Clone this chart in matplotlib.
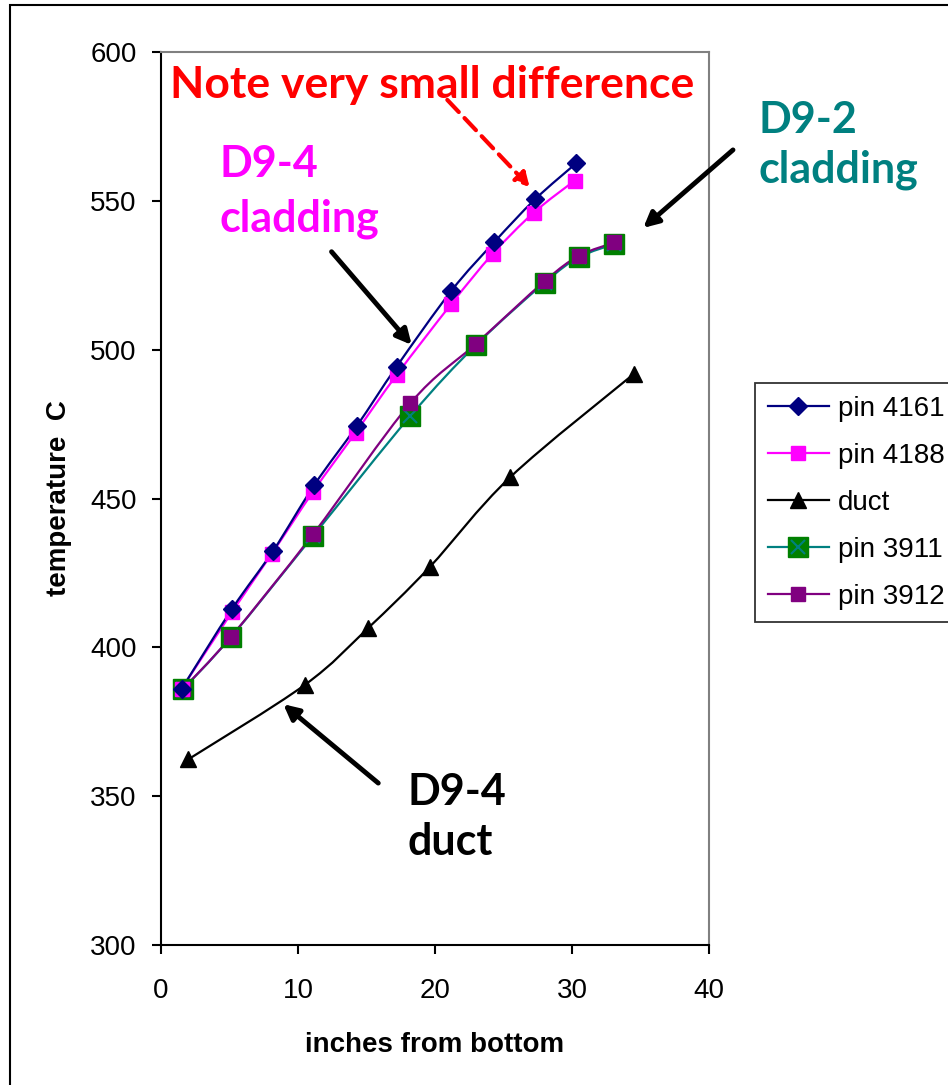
import numpy as np
import matplotlib
matplotlib.use('Agg')
import matplotlib.pyplot as plt
from matplotlib.path import Path
from matplotlib.patches import PathPatch, Rectangle
from matplotlib.lines import Line2D

plt.rcParams['font.family'] = ['Liberation Sans', 'DejaVu Sans']

# data
x_4161 = [1.5, 5.2, 8.2, 11.2, 14.3, 17.2, 21.2, 24.3, 27.3, 30.3]
y_4161 = [386, 413, 432.5, 454.6, 474.4, 494.3, 519.8, 536, 550.5, 562.6]

x_4188 = [1.5, 5.2, 8.1, 11.1, 14.2, 17.2, 21.2, 24.2, 27.2, 30.2]
y_4188 = [386, 412, 431.5, 452.3, 472.1, 491.5, 515.4, 532.1, 546, 556.8]

x_duct = [2.0, 10.5, 15.1, 19.6, 25.5, 34.5]
y_duct = [362.4, 387.4, 406.4, 426.9, 457.2, 491.8]

x_3911 = [1.6, 5.1, 11.1, 18.2, 23.0, 28.0, 30.5, 33.1]
y_3911 = [385.9, 403.4, 437.4, 477.7, 501.6, 522.5, 531, 535.5]

x_3912 = [1.6, 5.1, 11.1, 18.2, 23.0, 28.0, 30.5, 33.1]
y_3912 = [386, 403.5, 438, 482, 502, 523, 531.5, 536]

labels = ['pin 4161', 'pin 4188', 'duct', 'pin 3911', 'pin 3912']


def smooth_path(xs, ys):
    # bezier path like excel "smoothed line"
    pts = np.column_stack([xs, ys])
    n = len(pts)
    verts = [pts[0]]
    codes = [Path.MOVETO]
    for i in range(n - 1):
        p0 = pts[i - 1] if i > 0 else pts[i]
        p1 = pts[i]
        p2 = pts[i + 1]
        p3 = pts[i + 2] if i + 2 < n else pts[i + 1]
        c1 = p1 + (p2 - p0) / 6.
        c2 = p2 - (p3 - p1) / 6.
        verts += [c1, c2, p2]
        codes += [Path.CURVE4] * 3
    return Path(verts, codes)


fig = plt.figure(figsize=(9.48, 10.85), dpi=100)
ax = fig.add_axes([0.1698, 0.129, 0.5781, 0.8231])

series = [
    (x_3911, y_3911, '#008080', dict(marker='s', ms=14.5, mfc='#008000', mec='#008000')),
    (x_3912, y_3912, '#800080', dict(marker='s', ms=9.5, mfc='#800080', mec='#800080')),
    (x_duct, y_duct, 'black', dict(marker='^', ms=11.5, mfc='black', mec='black')),
    (x_4188, y_4188, '#FF00FF', dict(marker='s', ms=9.5, mfc='#FF00FF', mec='#FF00FF')),
    (x_4161, y_4161, '#000080', dict(marker='D', ms=9, mfc='#000080', mec='#000080')),
]
for xs, ys, col, mk in series:
    ax.add_patch(PathPatch(smooth_path(xs, ys), fill=False, edgecolor=col, lw=1.6, zorder=2))
    ax.plot(xs, ys, linestyle='none', zorder=3, **mk)
    if col == '#008080':
        ax.plot(xs, ys, linestyle='none', marker='x', ms=10, mew=1.5, color='#008080', zorder=3)

ax.set_xlim(0, 40)
ax.set_ylim(300, 600)
ax.set_xticks([0, 10, 20, 30, 40])
ax.set_yticks([300, 350, 400, 450, 500, 550, 600])
ax.tick_params(labelsize=20, length=6.5, width=1.5, direction='out')
ax.tick_params(axis='y', pad=11)
ax.tick_params(axis='x', pad=17)
for s in ['top', 'right']:
    ax.spines[s].set_color('#808080')
    ax.spines[s].set_linewidth(1.5)
for s in ['left', 'bottom']:
    ax.spines[s].set_linewidth(1.5)
ax.set_ylabel('temperature  C', fontsize=20, fontweight='bold')
ax.set_xlabel('inches from bottom', fontsize=20, fontweight='bold')
ax.yaxis.set_label_coords(-0.162, 0.5)
ax.xaxis.set_label_coords(0.5, -0.097)

# annotations
bold = dict(fontweight='bold', family=['Lato', 'DejaVu Sans'], va='baseline', ha='left')
ax.text(0.66, 584.5, 'Note very small difference', color='red', fontsize=32, **bold)
ax.annotate('', xy=(26.9, 554.7), xytext=(20.9, 583.9),
            arrowprops=dict(arrowstyle='-|>,head_length=0.8,head_width=0.45', color='red', lw=3,
                            linestyle=(0, (4, 2)), shrinkA=0, shrinkB=0))

ax.text(4.3, 558.1, 'D9-4', color='#FF00FF', fontsize=31, **bold)
ax.text(4.3, 539.6, 'cladding', color='#FF00FF', fontsize=31, **bold)
ax.annotate('', xy=(18.3, 501.6), xytext=(12.45, 532.9),
            arrowprops=dict(arrowstyle='-|>,head_length=0.9,head_width=0.45', color='black', lw=3.5,
                            shrinkA=0, shrinkB=0))

ax.text(43.6, 572.8, 'D9-2', color='#008080', fontsize=31, clip_on=False, **bold)
ax.text(43.6, 556.3, 'cladding', color='#008080', fontsize=31, clip_on=False, **bold)
ax.annotate('', xy=(35.2, 540.9), xytext=(41.75, 567.1),
            arrowprops=dict(arrowstyle='-|>,head_length=0.9,head_width=0.45', color='black', lw=3.5,
                            shrinkA=0, shrinkB=0), annotation_clip=False)

ax.text(18.0, 347.1, 'D9-4', color='black', fontsize=31, **bold)
ax.text(18.0, 330.3, 'duct', color='black', fontsize=31, **bold)
ax.annotate('', xy=(8.93, 380.9), xytext=(15.86, 354.4),
            arrowprops=dict(arrowstyle='-|>,head_length=0.9,head_width=0.45', color='black', lw=3.5,
                            shrinkA=0, shrinkB=0))

# legend
h_3911 = (Line2D([], [], color='#008080', lw=1.6, marker='s', ms=14.5, mfc='#008000', mec='#008000'),
          Line2D([], [], color='#008080', lw=0, marker='x', ms=10, mew=1.5))
handles = [
    Line2D([], [], color='#000080', lw=1.6, marker='D', ms=9),
    Line2D([], [], color='#FF00FF', lw=1.6, marker='s', ms=9.5),
    Line2D([], [], color='black', lw=1.6, marker='^', ms=11.5),
    h_3911,
    Line2D([], [], color='#800080', lw=1.6, marker='s', ms=9.5),
]
leg = fig.legend(handles, labels, loc='upper left', bbox_to_anchor=(755 / 948, 1 - 383 / 1085),
                 fontsize=20, frameon=True, fancybox=False, edgecolor='black', borderaxespad=0,
                 handlelength=2.23, handletextpad=0.29, labelspacing=0.76, borderpad=0.45)
leg.get_frame().set_linewidth(1.3)

# outer chart border
fig.patches.append(Rectangle((10 / 948, -0.1), 2, 1 - 5 / 1085 + 0.1, transform=fig.transFigure,
                             fill=False, edgecolor='black', lw=1.5))

fig.savefig('out.png', dpi=100)
